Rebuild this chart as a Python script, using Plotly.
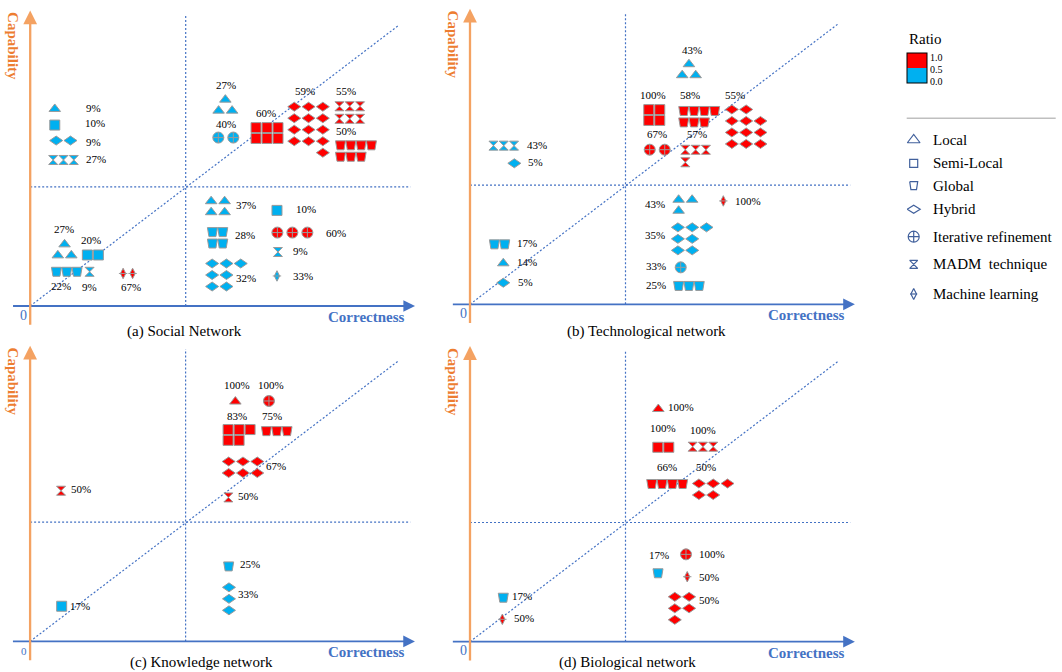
import plotly.graph_objects as go

# ------------------------------------------------------------------ data ---
METHOD_NAMES = {"L": "Local", "S": "Semi-Local", "G": "Global", "H": "Hybrid",
                "I": "Iterative refinement", "M": "MADM\u00a0 technique", "ML": "Machine learning"}

# (a) Social network
a_method = ["L", "S", "H", "M", "L", "I", "S", "H", "M", "G", "L", "S", "G", "M", "ML",
            "L", "G", "H", "S", "I", "M", "ML"]
a_count = [1, 1, 2, 3, 3, 2, 6, 13, 6, 7, 3, 2, 3, 1, 2, 4, 4, 7, 1, 3, 1, 1]
a_ratio = [0.09, 0.10, 0.09, 0.27, 0.27, 0.40, 0.60, 0.59, 0.55, 0.50, 0.27, 0.20, 0.22, 0.09,
           0.67, 0.37, 0.28, 0.32, 0.10, 0.60, 0.09, 0.33]
a_correct = [0.158, 0.158, 0.213, 0.214, 1.255, 1.258, 1.523, 1.790, 2.055, 2.095, 0.221, 0.403,
             0.235, 0.382, 0.628, 1.207, 1.205, 1.262, 1.587, 1.686, 1.593, 1.587]
a_capab = [1.653, 1.518, 1.388, 1.225, 1.685, 1.413, 1.451, 1.479, 1.623, 1.300, 0.471, 0.428,
           0.287, 0.287, 0.273, 0.833, 0.572, 0.260, 0.802, 0.616, 0.453, 0.252]

# (b) Technological network
b_method = ["M", "H", "L", "S", "G", "H", "I", "M", "G", "L", "H", "L", "ML", "H", "I", "G"]
b_count = [3, 1, 3, 4, 7, 11, 2, 4, 2, 1, 1, 3, 1, 7, 1, 3]
b_ratio = [0.43, 0.05, 0.43, 1.00, 0.58, 0.55, 0.67, 0.57, 0.17, 0.14, 0.05, 0.43, 1.00, 0.35,
           0.33, 0.25]
b_correct = [0.217, 0.285, 1.408, 1.185, 1.474, 1.776, 1.204, 1.451, 0.190, 0.214, 0.214, 1.385,
             1.629, 1.429, 1.355, 1.408]
b_capab = [1.331, 1.183, 1.968, 1.588, 1.574, 1.490, 1.297, 1.244, 0.503, 0.344, 0.181, 0.831,
           0.867, 0.549, 0.310, 0.154]

# (c) Knowledge network
c_method = ["M", "L", "I", "S", "G", "H", "M", "S", "G", "H"]
c_count = [1, 1, 1, 5, 3, 6, 1, 1, 1, 3]
c_ratio = [0.50, 1.00, 1.00, 0.83, 0.75, 0.67, 0.50, 0.17, 0.25, 0.33]
c_correct = [0.199, 1.320, 1.536, 1.344, 1.586, 1.369, 1.275, 0.203, 1.277, 1.279]
c_capab = [1.264, 2.012, 2.017, 1.732, 1.764, 1.461, 1.208, 0.295, 0.629, 0.357]

# (d) Biological network
d_method = ["L", "S", "M", "G", "H", "G", "ML", "G", "I", "ML", "H"]
d_count = [1, 2, 3, 4, 5, 1, 1, 1, 1, 1, 5]
d_ratio = [1.00, 1.00, 1.00, 0.66, 0.50, 0.17, 0.50, 0.17, 1.00, 0.50, 0.50]
d_correct = [1.211, 1.243, 1.498, 1.268, 1.564, 0.214, 0.208, 1.209, 1.389, 1.397, 1.363]
d_capab = [1.952, 1.631, 1.636, 1.323, 1.279, 0.369, 0.188, 0.574, 0.733, 0.545, 0.280]

# colour bar labels
ratio_ticktext = ["0.0", "0.5", "1.0"]

# ------------------------------------------------------- arrangement/style ---
a_rows = [[1], [1], [2], [3], [1, 2], [2], [3, 3], [3, 3, 3, 3, 1], [3, 3], [4, 3], [1, 2], [2],
          [3], [1], [2], [2, 2], [2, 2], [3, 2, 2], [1], [3], [1], [1]]
a_align = ["l", "l", "l", "l", "c", "l", "l", "r", "l", "l", "c", "l", "l", "l", "l", "l", "l",
           "l", "l", "l", "l", "l"]
a_label = [(38.3, -1), (39.9, -2), (29.7, 1.4), (32.5, -1), (0.2, -20.6), (-0.3, -13.6),
           (-1.2, -20), (-3.5, -38.7), (-4.1, -21.9), (-10.4, -20.1), (-0.8, -20.9),
           (-2.2, -15.4), (-5.4, 14.2), (-0.6, 15.2), (3.2, 13.5), (28.1, -1.3), (27.4, -2.8),
           (19.1, 3), (29, -1.7), (43.3, 0), (22.1, -1), (26, 0)]

b_rows = [[3], [1], [1, 2], [2, 2], [4, 3], [2, 3, 3, 3], [2], [3, 1], [2], [1], [1], [2, 1], [1],
          [3, 2, 2], [1], [3]]
b_align = ["l", "l", "c"] + ["l"] * 13
b_label = [(33, -0.4), (20.7, -1.6), (2.7, -19.7), (-0.9, -19.7), (-9.2, -21.4), (-10.9, -31.4),
           (-0.5, -15.4), (1, -21.7), (27.8, -1), (23.4, -1), (22.7, -0.4), (-30.3, -1.3),
           (25, 0), (-37.2, -3.8), (-25, -1.3), (-33.3, -0.7)]

c_rows = [[1], [1], [1], [3, 2], [3], [3, 3], [1], [1], [1], [1, 1, 1]]
c_align = ["l"] * 10
c_label = [(20, -2), (1.6, -16.4), (2.3, -15.8), (-2.1, -18.5), (-5.2, -14.7), (33.3, -1.3),
           (19.4, -1.4), (18.8, 0), (21.1, -2.4), (19.5, -5.3)]

d_rows = [[1], [2], [3], [4], [3, 2], [1], [1], [1], [1], [1], [2, 2, 1]]
d_align = ["l"] * 11
d_label = [(22.4, -1.7), (0, -19), (-0.3, -16.7), (-0.5, -16.7), (-7.2, -21.9), (19, -1.4),
           (22, -1.3), (1.3, -18.3), (25.7, 0), (22, 0.3), (27.3, -8.3)]

W, H = 1062, 672
UX, UY = 155.5, 119.2  # pixels per data unit
RED, BLUE = "#ff0000", "#00b0f0"
EDGE = "#9a9a9a"
AXBLUE = "#4472c4"
ORANGE_LINE = "#f4a262"
ORANGE_TXT = "#ed7d31"
SERIF = "Liberation Serif, Times New Roman, serif"
LEGC = "#41609c"

SYM = {
    "L": dict(kind="native", symbol="triangle-up", size=10, dx=13.5, dy=11),
    "S": dict(kind="native", symbol="square", size=10, dx=11, dy=10.8),
    "G": dict(kind="poly", verts=[(-5, -4.5), (5, -4.5), (3.5, 4.5), (-3.5, 4.5)], dx=10.3, dy=11.4),
    "H": dict(kind="poly", verts=[(-6.5, 0), (0, -4.5), (6.5, 0), (0, 4.5)], dx=14.3, dy=11.5),
    "I": dict(kind="native", symbol="circle-cross", size=11, dx=15, dy=12),
    "M": dict(kind="native", symbol="hourglass", size=9, dx=10.3, dy=12.5),
    "ML": dict(kind="native", symbol="diamond-tall", size=7.5, dx=9.5, dy=12),
}


def ratio_color(r):
    return RED if r >= 0.5 else BLUE


def place(cx, cy, rows, align, dx, dy):
    wid = (max(rows) - 1) * dx
    hei = (len(rows) - 1) * dy
    out = []
    for ri, n in enumerate(rows):
        if align == "l":
            x0 = -wid / 2
        elif align == "r":
            x0 = wid / 2 - (n - 1) * dx
        else:
            x0 = -(n - 1) * dx / 2
        y = -hei / 2 + ri * dy
        for k in range(n):
            out.append((cx + (x0 + k * dx) / UX, cy - y / UY))
    return out


panels = [
    dict(method=a_method, count=a_count, ratio=a_ratio, xs=a_correct, ys=a_capab, rows=a_rows,
         align=a_align, lab=a_label, origin=(30.2, 306.0), box=(0, 425, 0, 336),
         caption="(a) Social Network", cap=(184.0, 331.0), zero=14),
    dict(method=b_method, count=b_count, ratio=b_ratio, xs=b_correct, ys=b_capab, rows=b_rows,
         align=b_align, lab=b_label, origin=(470.0, 304.3), box=(440, 865, 0, 336),
         caption="(b) Technological network", cap=(646.3, 331.0), zero=14),
    dict(method=c_method, count=c_count, ratio=c_ratio, xs=c_correct, ys=c_capab, rows=c_rows,
         align=c_align, lab=c_label, origin=(30.1, 641.4), box=(0, 425, 337, 672),
         caption="(c) Knowledge network", cap=(201.0, 662.7), zero=11),
    dict(method=d_method, count=d_count, ratio=d_ratio, xs=d_correct, ys=d_capab, rows=d_rows,
         align=d_align, lab=d_label, origin=(470.0, 641.7), box=(440, 865, 337, 672),
         caption="(d) Biological network", cap=(627.0, 662.8), zero=14),
]

fig = go.Figure()
axes = {}
shapes = []
annotations = []
dot = dict(color=AXBLUE, width=1.2, dash="2px,2px")

for i, p in enumerate(panels):
    sfx = "" if i == 0 else str(i + 1)
    xref, yref = "x" + sfx, "y" + sfx
    ox, oy = p["origin"]
    bx0, bx1, by0, by1 = p["box"]
    axes["xaxis" + sfx] = dict(domain=[bx0 / W, bx1 / W], range=[(bx0 - ox) / UX, (bx1 - ox) / UX],
                               visible=False, anchor=yref, fixedrange=True)
    axes["yaxis" + sfx] = dict(domain=[1 - by1 / H, 1 - by0 / H], range=[(oy - by1) / UY, (oy - by0) / UY],
                               visible=False, anchor=xref, fixedrange=True)

    # quadrant dividers and diagonal
    shapes += [
        dict(type="line", xref=xref, yref=yref, x0=1, x1=1, y0=0, y1=2.45, line=dot, layer="below"),
        dict(type="line", xref=xref, yref=yref, x0=0, x1=2.445, y0=1, y1=1, line=dot, layer="below"),
        dict(type="line", xref=xref, yref=yref, x0=0, y0=0, x1=2.37, y1=2.355, line=dot, layer="below"),
    ]

    native, polys, ml_pts = {}, {}, ([], [])
    for m, n, r, cx, cy, rows, al, (ldx, ldy) in zip(p["method"], p["count"], p["ratio"], p["xs"],
                                                     p["ys"], p["rows"], p["align"], p["lab"]):
        assert sum(rows) == n
        st = SYM[m]
        col = ratio_color(r)
        pts = place(cx, cy, rows, al, st["dx"], st["dy"])
        if st["kind"] == "native":
            d = native.setdefault((m, col), ([], []))
            for x, y in pts:
                d[0].append(x)
                d[1].append(y)
                if m == "ML":
                    ml_pts[0].append(x)
                    ml_pts[1].append(y)
        else:
            d = polys.setdefault((m, col), ([], []))
            vs = st["verts"] + [st["verts"][0]]
            for x, y in pts:
                for vx, vy in vs:
                    d[0].append(x + vx / UX)
                    d[1].append(y - vy / UY)
                d[0].append(None)
                d[1].append(None)
        annotations.append(dict(x=cx, y=cy, xref=xref, yref=yref, text=f"{round(r * 100)}%",
                                showarrow=False, xshift=ldx, yshift=-ldy, xanchor="center",
                                yanchor="middle", font=dict(family=SERIF, size=11, color="black")))

    for (m, col), (xx, yy) in polys.items():
        fig.add_trace(go.Scatter(x=xx, y=yy, xaxis=xref, yaxis=yref, mode="lines", fill="toself",
                                 fillcolor=col, line=dict(color=EDGE, width=1), showlegend=False,
                                 hoverinfo="skip"))
    for (m, col), (xx, yy) in native.items():
        st = SYM[m]
        fig.add_trace(go.Scatter(x=xx, y=yy, xaxis=xref, yaxis=yref, mode="markers",
                                 marker=dict(symbol=st["symbol"], size=st["size"], color=col,
                                             line=dict(color=EDGE, width=1)),
                                 showlegend=False, hoverinfo="skip"))
    if ml_pts[0]:
        fig.add_trace(go.Scatter(x=ml_pts[0], y=ml_pts[1], xaxis=xref, yaxis=yref, mode="markers",
                                 marker=dict(symbol="line-ew", size=6, color=EDGE,
                                             line=dict(color=EDGE, width=1)),
                                 showlegend=False, hoverinfo="skip"))

    # axis arrows
    annotations.append(dict(x=2.475, y=0, ax=-0.12, ay=0, xref=xref, yref=yref, axref=xref,
                            ayref=yref, text="", showarrow=True, arrowhead=2, arrowsize=1.3,
                            arrowwidth=1.8, arrowcolor=AXBLUE))
    annotations.append(dict(x=0, y=2.48, ax=0, ay=-0.17, xref=xref, yref=yref, axref=xref,
                            ayref=yref, text="", showarrow=True, arrowhead=2, arrowsize=1.2,
                            arrowwidth=2.3, arrowcolor=ORANGE_LINE))
    annotations.append(dict(x=0, y=0, xref=xref, yref=yref, text="0", showarrow=False,
                            xshift=-6.5, yshift=-9.2, font=dict(family=SERIF, size=p["zero"], color=AXBLUE)))
    annotations.append(dict(x=0, y=0, xref=xref, yref=yref, text="<b>Correctness</b>", showarrow=False,
                            xshift=336.5, yshift=-11, font=dict(family=SERIF, size=15, color=AXBLUE)))
    annotations.append(dict(x=0, y=0, xref=xref, yref=yref, text="<b>Capability</b>", showarrow=False,
                            xshift=-16.8, yshift=259.5, textangle=90,
                            font=dict(family=SERIF, size=15, color=ORANGE_TXT)))
    annotations.append(dict(x=p["cap"][0] / W, y=1 - p["cap"][1] / H, xref="paper", yref="paper",
                            text=p["caption"], showarrow=False, xanchor="center", yanchor="middle",
                            font=dict(family=SERIF, size=15, color="black")))

# ---------------------------------------------------------------- legend ---
axes["xaxis5"] = dict(domain=[890 / W, 1], range=[890, 1062], visible=False, anchor="y5", fixedrange=True)
axes["yaxis5"] = dict(domain=[1 - 320 / H, 1 - 100 / H], range=[320, 100], visible=False, anchor="x5",
                      fixedrange=True)

fig.add_trace(go.Scatter(
    x=[None], y=[None], xaxis="x5", yaxis="y5", mode="markers", showlegend=False, hoverinfo="skip",
    marker=dict(color=[0, 1], cmin=0, cmax=1,
                colorscale=[[0, BLUE], [0.5, BLUE], [0.5, RED], [1, RED]], showscale=True,
                colorbar=dict(x=907 / W, xanchor="left", xpad=0, y=1 - 53 / H, yanchor="top", ypad=0,
                              len=30, lenmode="pixels", thickness=20, thicknessmode="pixels",
                              outlinewidth=1, outlinecolor="black", tickvals=[0.04, 0.46, 0.85],
                              ticktext=ratio_ticktext, ticks="",
                              tickfont=dict(family=SERIF, size=10, color="black")))))
annotations.append(dict(x=907 / W, y=1 - 39 / H, xref="paper", yref="paper", text="Ratio",
                        showarrow=False, xanchor="left", yanchor="middle",
                        font=dict(family=SERIF, size=15, color="black")))
shapes.append(dict(type="line", xref="paper", yref="paper", x0=907 / W, x1=927 / W,
                   y0=1 - 68 / H, y1=1 - 68 / H, line=dict(color="black", width=1)))
shapes.append(dict(type="line", xref="x5", yref="y5", x0=906.7, x1=1055.7, y0=118.3, y1=118.3,
                   line=dict(color="#bfbfbf", width=1.5)))

leg_order = ["L", "S", "G", "H", "I", "M", "ML"]
leg_y = [140, 163.3, 185.7, 209.3, 236.7, 264.3, 294]
LEG_SYM = {"L": ("triangle-up-open", 11), "S": ("square-open", 8), "I": ("circle-cross-open", 11),
           "M": ("hourglass-open", 8), "ML": ("diamond-tall-open", 8)}
LEG_POLY = {"G": [(-4, -4), (4, -4), (2.8, 4), (-2.8, 4)], "H": [(-6.5, 0), (0, -4), (6.5, 0), (0, 4)]}
LX, TX = 913.7, 931
for m, ly in zip(leg_order, leg_y):
    if m in LEG_SYM:
        sym, sz = LEG_SYM[m]
        fig.add_trace(go.Scatter(x=[LX], y=[ly], xaxis="x5", yaxis="y5", mode="markers",
                                 marker=dict(symbol=sym, size=sz, color=LEGC, line=dict(color=LEGC, width=1.2)),
                                 showlegend=False, hoverinfo="skip"))
        if m == "ML":
            fig.add_trace(go.Scatter(x=[LX], y=[ly], xaxis="x5", yaxis="y5", mode="markers",
                                     marker=dict(symbol="line-ew", size=5, color=LEGC,
                                                 line=dict(color=LEGC, width=1.2)),
                                     showlegend=False, hoverinfo="skip"))
    else:
        vs = LEG_POLY[m] + [LEG_POLY[m][0]]
        fig.add_trace(go.Scatter(x=[LX + vx for vx, vy in vs], y=[ly + vy for vx, vy in vs],
                                 xaxis="x5", yaxis="y5", mode="lines",
                                 line=dict(color=LEGC, width=1.2), showlegend=False, hoverinfo="skip"))
    annotations.append(dict(x=TX, y=ly, xref="x5", yref="y5", text=METHOD_NAMES[m], showarrow=False,
                            xanchor="left", yanchor="middle", font=dict(family=SERIF, size=15, color="black")))

fig.update_layout(width=W, height=H, margin=dict(l=0, r=0, t=0, b=0), paper_bgcolor="white",
                  plot_bgcolor="white", showlegend=False, font=dict(family=SERIF),
                  shapes=shapes, annotations=annotations, **axes)
fig.write_html("out.html", config={"displayModeBar": False},
               post_script="document.body.style.margin='0';document.body.style.padding='0';"
                           "document.body.style.overflow='hidden';")
